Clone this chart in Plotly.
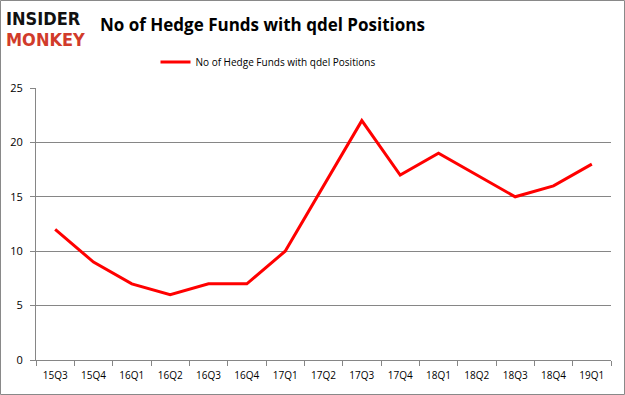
import plotly.graph_objects as go

quarters = ["15Q3", "15Q4", "16Q1", "16Q2", "16Q3", "16Q4", "17Q1", "17Q2",
            "17Q3", "17Q4", "18Q1", "18Q2", "18Q3", "18Q4", "19Q1"]
funds = [12, 9, 7, 6, 7, 7, 10, 16, 22, 17, 19, 17, 15, 16, 18]
y_ticks = [0, 5, 10, 15, 20, 25]
series_name = "No of Hedge Funds with qdel Positions"

W, H = 625, 395
L, R, T, B = 36, 14, 88, 35
pw, ph = W - L - R, H - T - B

fig = go.Figure()
fig.add_trace(go.Scatter(x=quarters, y=funds, mode="lines", name=series_name,
                         line=dict(color="#ff0000", width=3)))

grid = "#868686"
fig.update_layout(
    width=W, height=H,
    margin=dict(l=L, r=R, t=T, b=B, autoexpand=False),
    paper_bgcolor="white", plot_bgcolor="white",
    font=dict(family="Open Sans, Liberation Sans, sans-serif", size=10, color="black"),
    showlegend=True,
    legend=dict(orientation="h", x=(268 - L) / pw, xanchor="center", y=1.0 + (88 - 62) / ph,
                yanchor="middle", font=dict(size=10), itemwidth=30,
                bgcolor="rgba(0,0,0,0)"),
    xaxis=dict(type="category", range=[-0.5, len(quarters) - 0.5],
               showline=True, linecolor=grid, linewidth=1,
               ticks="outside", tickson="boundaries", ticklen=5, tickcolor=grid,
               ticklabelstandoff=6,
               showgrid=False, tickfont=dict(size=10), fixedrange=True),
    yaxis=dict(range=[0, 25], tickvals=y_ticks, showline=True, linecolor=grid,
               linewidth=1, ticks="outside", ticklen=5, tickcolor=grid,
               ticklabelstandoff=5,
               showgrid=True, gridcolor=grid, gridwidth=1, zeroline=False,
               tickfont=dict(size=11), fixedrange=True),
)

# Title
fig.add_annotation(text="<b>No of Hedge Funds with qdel Positions</b>",
                   xref="paper", yref="paper",
                   x=(262 - L) / pw, y=1 + (88 - 25) / ph,
                   xanchor="center", yanchor="middle", showarrow=False,
                   font=dict(size=17, family="Open Sans, sans-serif", color="black"))
# Logo
logo_font = "DejaVu Sans Condensed, Liberation Sans Narrow, sans-serif"
fig.add_annotation(text="<b>INSIDER</b>", xref="paper", yref="paper",
                   x=(4 - L) / pw, y=1 + (88 - 18) / ph, xanchor="left", yanchor="middle",
                   showarrow=False,
                   font=dict(size=18, family=logo_font, color="#111111"))
fig.add_annotation(text="<b>MONKEY</b>", xref="paper", yref="paper",
                   x=(4 - L) / pw, y=1 + (88 - 40) / ph, xanchor="left", yanchor="middle",
                   showarrow=False,
                   font=dict(size=18, family=logo_font, color="#d13b2a"))
# Outer border
fig.add_shape(type="rect", xref="paper", yref="paper",
              x0=(0.5 - L) / pw, x1=(W - 0.5 - L) / pw,
              y0=-(B - 0.5) / ph, y1=1 + (T - 0.5) / ph,
              line=dict(color="#898989", width=1), fillcolor="rgba(0,0,0,0)")

fig.write_html("out.html", config={"displayModeBar": False},
               post_script="document.body.style.margin='0';document.body.style.overflow='hidden';")
